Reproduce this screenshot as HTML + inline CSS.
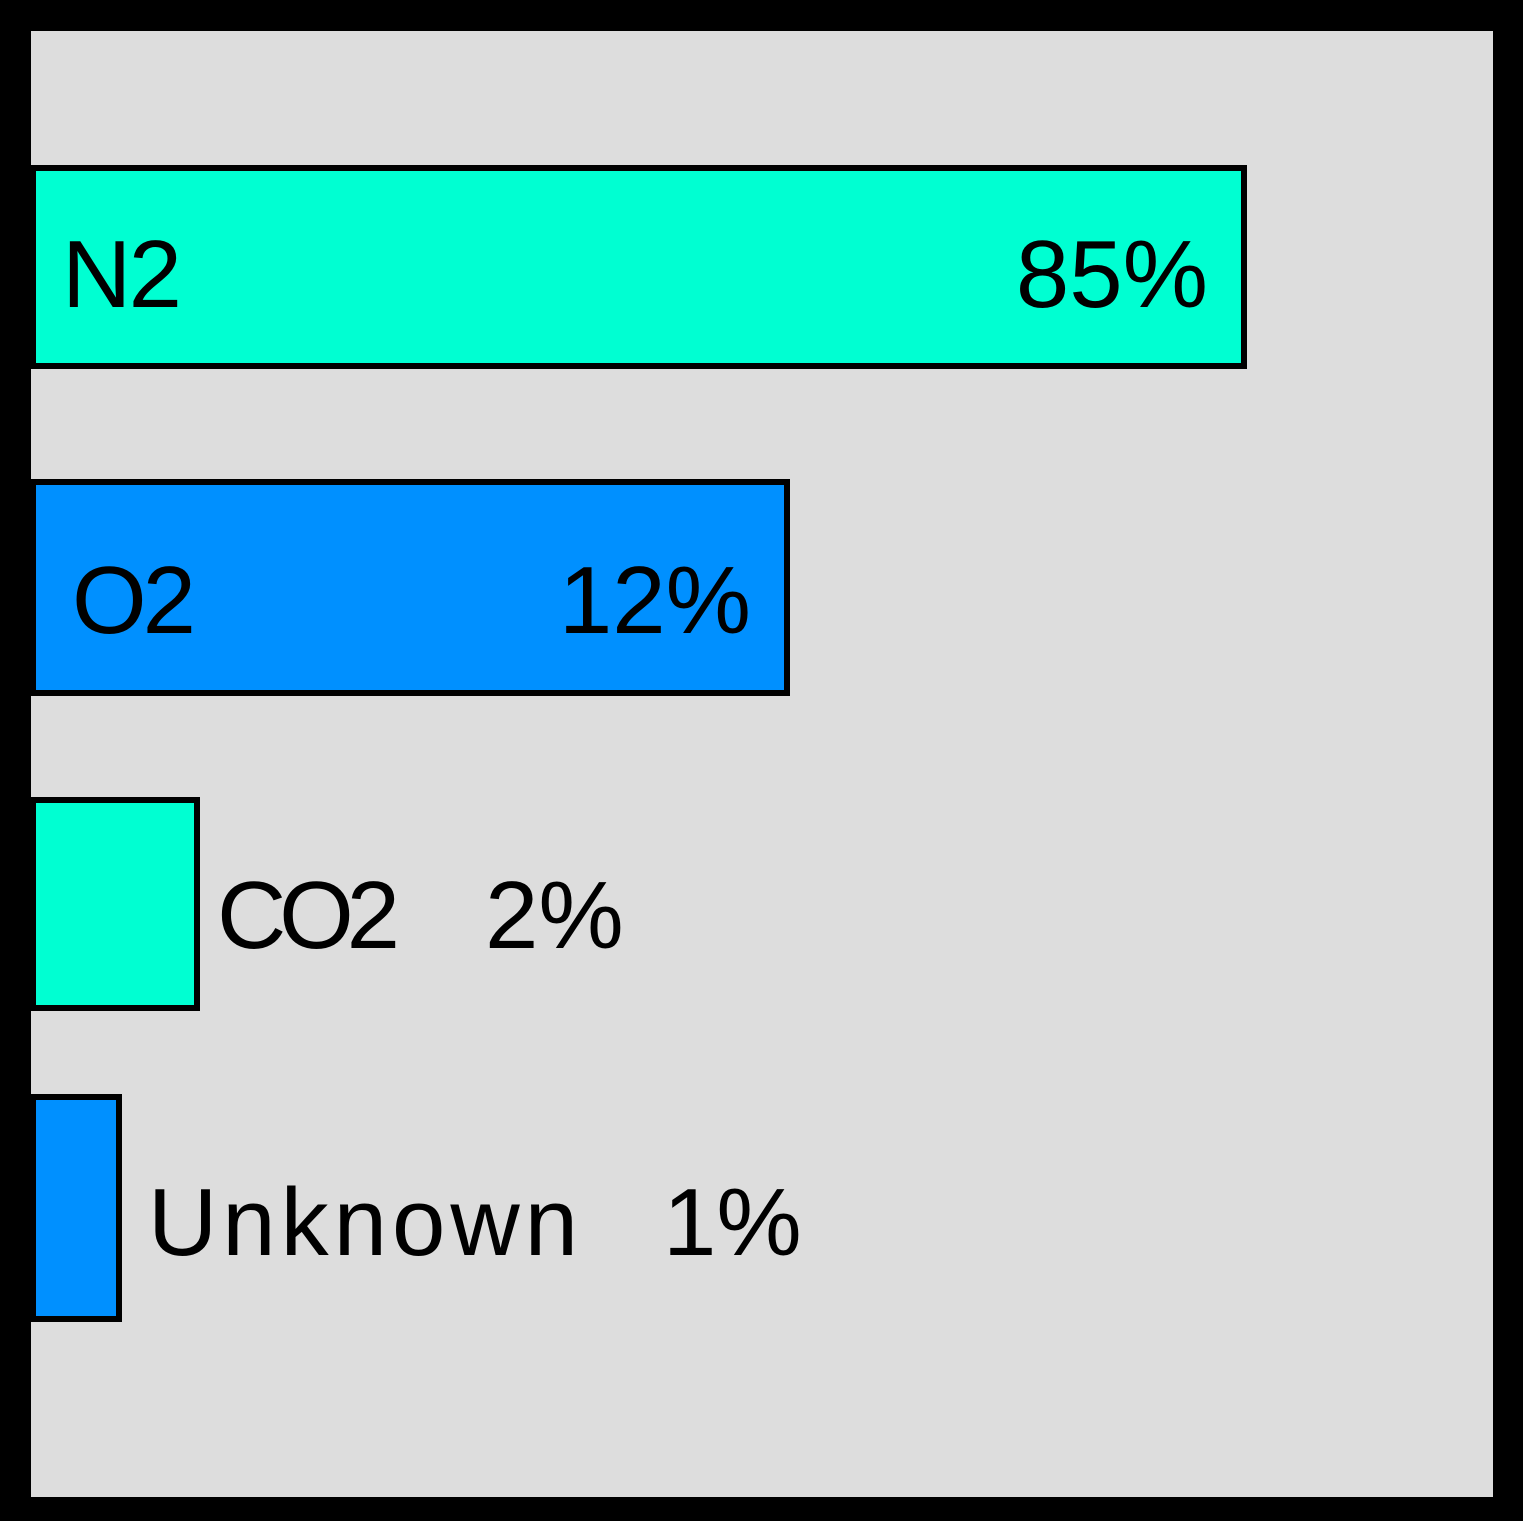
<!DOCTYPE html>
<html><head><meta charset="utf-8"><style>
html,body{margin:0;padding:0;background:#000}
svg{display:block}
text{font-family:"Liberation Sans",sans-serif;font-size:96px;fill:#000}
</style></head><body>
<svg id="chart" width="1523" height="1521" viewBox="0 0 1523 1521">
<rect x="0" y="0" width="1523" height="1521" fill="#000"/>
<rect x="31" y="31" width="1462" height="1466" fill="#dddddd"/>
<g id="bars"></g>
</svg>
<script>
const categories = ["N2", "O2", "CO2", "Unknown"];
const values = [85, 12, 2, 1];
const valueLabels = ["85%", "12%", "2%", "1%"];
const fills = ["#00ffd2", "#0090ff", "#00ffd2", "#0090ff"];

// polylinear value axis (the reference uses a compressed, non-linear scale)
const xDomain = [0, 1, 2, 12, 85, 100];
const xRange = [0, 86, 164, 754, 1211, 1300];
function xScale(v){
  for(let i=1;i<xDomain.length;i++){
    if(v<=xDomain[i]||i===xDomain.length-1){
      const t=(v-xDomain[i-1])/(xDomain[i]-xDomain[i-1]);
      return xRange[i-1]+t*(xRange[i]-xRange[i-1]);
    }
  }
}
const x0 = 33;
const rows = [
  {y:168,h:198,base:307,inside:true,labelX:62,tl:120,pl:188},
  {y:482,h:211,base:633,inside:true,labelX:72,tl:124,pl:184},
  {y:800,h:208,base:948,inside:false,gap:20,pctGap:85,tl:183,pl:130},
  {y:1097,h:222,base:1255,inside:false,gap:29,pctGap:85,tl:430,pl:130}
];
const ns="http://www.w3.org/2000/svg";
const g=document.getElementById('bars');
categories.forEach((c,i)=>{
  const r=rows[i];
  const w=xScale(values[i]);
  const rect=document.createElementNS(ns,'rect');
  rect.setAttribute('x',x0);rect.setAttribute('y',r.y);
  rect.setAttribute('width',w);rect.setAttribute('height',r.h);
  rect.setAttribute('fill',fills[i]);rect.setAttribute('stroke','#000');rect.setAttribute('stroke-width','6');
  
  
  g.appendChild(rect);
  const lab=document.createElementNS(ns,'text');
  lab.textContent=c;
  lab.setAttribute('y',r.base);
  lab.setAttribute('textLength',r.tl);
  
  
  const pct=document.createElementNS(ns,'text');
  pct.textContent=valueLabels[i];
  pct.setAttribute('y',r.base);
  
  
  g.appendChild(lab);g.appendChild(pct);
  if(r.inside){
    lab.setAttribute('x',r.labelX);
    pct.setAttribute('x',x0+w-36);
    pct.setAttribute('text-anchor','end');
  }else{
    const lx=x0+w+r.gap;
    lab.setAttribute('x',lx);
    pct.setAttribute('x',lx+r.tl+r.pctGap);
  }
});
</script>
</body></html>
